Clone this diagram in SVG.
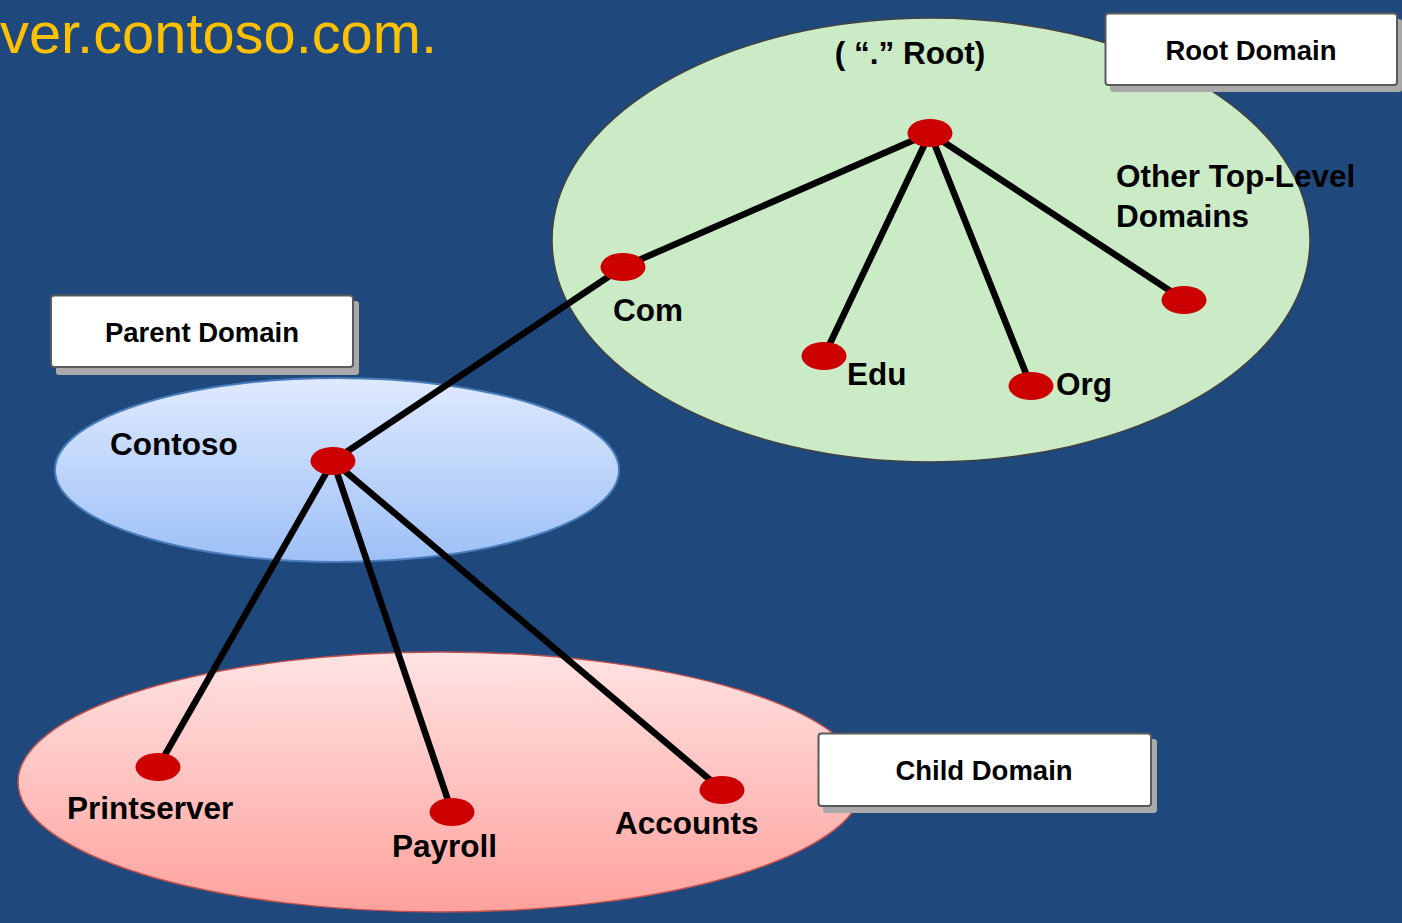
<svg xmlns="http://www.w3.org/2000/svg" width="1402" height="923" viewBox="0 0 1402 923">
  <defs>
    <linearGradient id="gBlue" x1="0" y1="0" x2="0" y2="1">
      <stop offset="0" stop-color="#dfeafe"/>
      <stop offset="1" stop-color="#9dc0f7"/>
    </linearGradient>
    <linearGradient id="gPink" x1="0" y1="0" x2="0" y2="1">
      <stop offset="0" stop-color="#ffe3e3"/>
      <stop offset="1" stop-color="#ffa19c"/>
    </linearGradient>
  </defs>
  <style>
    .lbl { font-family: "Liberation Sans", Arial, sans-serif; font-weight: bold; font-size: 31.5px; fill: #000; }
    .box-lbl { font-family: "Liberation Sans", Arial, sans-serif; font-weight: bold; font-size: 27.5px; fill: #000; text-anchor: middle; }
    .title { font-family: "Liberation Sans", Arial, sans-serif; font-size: 58px; fill: #ffc000; }
    .dot { fill: #cc0000; }
    .link { stroke: #000; stroke-width: 6.5; stroke-linecap: butt; fill: none; }
    .box { fill: #fff; stroke: #5a5a5a; stroke-width: 2; }
    .shadow { fill: #a9a9a9; }
  </style>

  <rect x="0" y="0" width="1402" height="923" fill="#1f497d"/>

  <text class="title" x="0" y="53" textLength="437" lengthAdjust="spacingAndGlyphs">ver.contoso.com.</text>

  <g id="zone-root">
    <ellipse cx="931" cy="240" rx="379" ry="222" fill="#cbebc6" stroke="#404040" stroke-width="1.5"/>
  </g>
  <g id="zone-parent">
    <ellipse cx="337" cy="470" rx="282" ry="92" fill="url(#gBlue)" stroke="#4a7dbb" stroke-width="2"/>
  </g>
  <g id="zone-child">
    <ellipse cx="441" cy="782" rx="423" ry="130" fill="url(#gPink)" stroke="#c0504d" stroke-width="1.5"/>
  </g>

  <g id="connectors">
    <line class="link" x1="930" y1="133" x2="623" y2="267"/>
    <line class="link" x1="930" y1="133" x2="824" y2="356"/>
    <line class="link" x1="930" y1="133" x2="1031" y2="386"/>
    <line class="link" x1="930" y1="133" x2="1184" y2="300"/>
    <line class="link" x1="623" y1="267" x2="333" y2="461"/>
    <line class="link" x1="333" y1="461" x2="158" y2="767"/>
    <line class="link" x1="333" y1="461" x2="452" y2="812"/>
    <line class="link" x1="333" y1="461" x2="722" y2="790"/>
  </g>

  <g id="node-root">
    <ellipse class="dot" cx="930" cy="133" rx="22.5" ry="14"/>
    <text class="lbl" x="910" y="64" text-anchor="middle">( “.” Root)</text>
  </g>
  <g id="node-com">
    <ellipse class="dot" cx="623" cy="267" rx="22.5" ry="14"/>
    <text class="lbl" x="613" y="321">Com</text>
  </g>
  <g id="node-edu">
    <ellipse class="dot" cx="824" cy="356" rx="22.5" ry="14"/>
    <text class="lbl" x="847" y="385">Edu</text>
  </g>
  <g id="node-org">
    <ellipse class="dot" cx="1031" cy="386" rx="22.5" ry="14"/>
    <text class="lbl" x="1056" y="395">Org</text>
  </g>
  <g id="node-other">
    <ellipse class="dot" cx="1184" cy="300" rx="22.5" ry="14"/>
    <text class="lbl" x="1116" y="187">Other Top-Level</text>
    <text class="lbl" x="1116" y="227">Domains</text>
  </g>
  <g id="node-contoso">
    <ellipse class="dot" cx="333" cy="461" rx="22.5" ry="14"/>
    <text class="lbl" x="110" y="455">Contoso</text>
  </g>
  <g id="node-printserver">
    <ellipse class="dot" cx="158" cy="767" rx="22.5" ry="14"/>
    <text class="lbl" x="67" y="819">Printserver</text>
  </g>
  <g id="node-payroll">
    <ellipse class="dot" cx="452" cy="812" rx="22.5" ry="14"/>
    <text class="lbl" x="392" y="857">Payroll</text>
  </g>
  <g id="node-accounts">
    <ellipse class="dot" cx="722" cy="790" rx="22.5" ry="14"/>
    <text class="lbl" x="615" y="834">Accounts</text>
  </g>

  <g id="box-root-domain">
    <rect class="shadow" x="1110" y="19" width="292" height="73" rx="3"/>
    <rect class="box" x="1105.5" y="13.5" width="291.5" height="71.5" rx="3"/>
    <text class="box-lbl" x="1251" y="60">Root Domain</text>
  </g>
  <g id="box-parent-domain">
    <rect class="shadow" x="56" y="301" width="303" height="74" rx="3"/>
    <rect class="box" x="51" y="295.5" width="302" height="71.5" rx="3"/>
    <text class="box-lbl" x="202" y="342">Parent Domain</text>
  </g>
  <g id="box-child-domain">
    <rect class="shadow" x="823" y="739" width="334" height="74" rx="3"/>
    <rect class="box" x="818.5" y="733.5" width="332.5" height="72.5" rx="3"/>
    <text class="box-lbl" x="984" y="780">Child Domain</text>
  </g>
</svg>
